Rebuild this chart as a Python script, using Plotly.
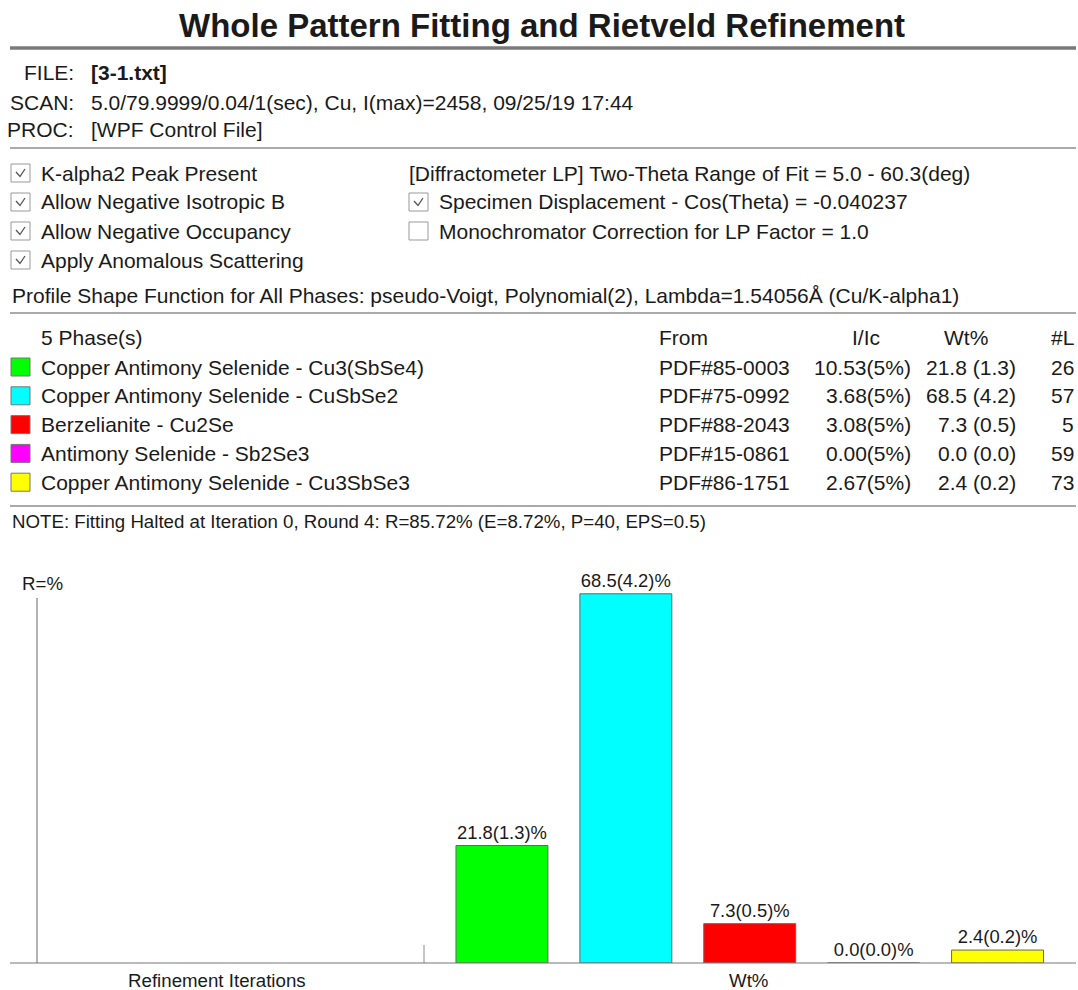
import plotly.graph_objects as go

# ---------------- data ----------------
phases = ["Copper Antimony Selenide - Cu3(SbSe4)",
          "Copper Antimony Selenide - CuSbSe2",
          "Berzelianite - Cu2Se",
          "Antimony Selenide - Sb2Se3",
          "Copper Antimony Selenide - Cu3SbSe3"]
pdf_refs = ["PDF#85-0003", "PDF#75-0992", "PDF#88-2043", "PDF#15-0861", "PDF#86-1751"]
i_ic = ["10.53(5%)", "3.68(5%)", "3.08(5%)", "0.00(5%)", "2.67(5%)"]
wt_pct = [21.8, 68.5, 7.3, 0.0, 2.4]
wt_err = [1.3, 4.2, 0.5, 0.0, 0.2]
n_lines = [26, 57, 5, 59, 73]
phase_colors = ["#00FF00", "#00FFFF", "#FF0000", "#FF00FF", "#FFFF00"]

checks_left = [("K-alpha2 Peak Present", True), ("Allow Negative Isotropic B", True),
               ("Allow Negative Occupancy", True), ("Apply Anomalous Scattering", True)]
checks_right = [("Specimen Displacement - Cos(Theta) = -0.040237", True),
                ("Monochromator Correction for LP Factor = 1.0", False)]

W, H = 1078, 990
FONT = "Liberation Sans, Arial, sans-serif"
BODY = 21
SMALL = 18.7


def X(px):
    return px / W


def Y(py):
    return 1 - py / H


annotations = []
shapes = []


def txt(x, y, s, size=BODY, anchor="left", bold=False, color="#1a1a1a"):
    if bold:
        s = "<b>" + s + "</b>"
    annotations.append(dict(x=X(x), y=Y(y), xref="paper", yref="paper", text=s,
                            showarrow=False, xanchor=anchor, yanchor="middle",
                            font=dict(family=FONT, size=size, color=color)))


def hline(y, x0, x1, color, width):
    shapes.append(dict(type="line", xref="paper", yref="paper", x0=X(x0), x1=X(x1),
                       y0=Y(y), y1=Y(y), line=dict(color=color, width=width)))


def vline(x, y0, y1, color, width):
    shapes.append(dict(type="line", xref="paper", yref="paper", x0=X(x), x1=X(x),
                       y0=Y(y0), y1=Y(y1), line=dict(color=color, width=width)))


def box(x0, y0, x1, y1, fill, line="#888", lw=1):
    shapes.append(dict(type="rect", xref="paper", yref="paper", x0=X(x0), x1=X(x1),
                       y0=Y(y1), y1=Y(y0), fillcolor=fill, line=dict(color=line, width=lw)))


def checkbox(x, yc, checked):
    box(x, yc - 9, x + 19, yc + 9, "white", "#999", 1)
    if checked:
        p = "M {:.5f} {:.5f} L {:.5f} {:.5f} L {:.5f} {:.5f}".format(
            X(x + 5), Y(yc - 1), X(x + 9), Y(yc + 3.5), X(x + 14), Y(yc - 4))
        shapes.append(dict(type="path", xref="paper", yref="paper", path=p,
                           line=dict(color="#555", width=1.3)))


# ---------------- header ----------------
txt(542, 25, "Whole Pattern Fitting and Rietveld Refinement", size=33, anchor="center", bold=True)
hline(48, 10, 1076, "#7a7a7a", 3.5)

txt(76, 72, "FILE:", anchor="right")
txt(89, 72, "[3-1.txt]", bold=True)
txt(76, 102, "SCAN:", anchor="right")
txt(89, 102, "5.0/79.9999/0.04/1(sec), Cu, I(max)=2458, 09/25/19 17:44")
txt(76, 130, "PROC:", anchor="right")
txt(89, 130, "[WPF Control File]")
hline(148, 10, 1076, "#aaaaaa", 2)

for i, (label, chk) in enumerate(checks_left):
    yc = 173 + i * 29
    checkbox(11, yc, chk)
    txt(39, yc, label)
txt(407, 173, "[Diffractometer LP] Two-Theta Range of Fit = 5.0 - 60.3(deg)")
for i, (label, chk) in enumerate(checks_right):
    yc = 202 + i * 29
    checkbox(409, yc, chk)
    txt(437, yc, label)

txt(10, 296, "Profile Shape Function for All Phases: pseudo-Voigt, Polynomial(2), Lambda=1.54056Å (Cu/K-alpha1)")
hline(313, 10, 1076, "#aaaaaa", 2)

# ---------------- phase table ----------------
txt(39, 337, "5 Phase(s)")
txt(657, 337, "From")
txt(866, 337, "I/Ic", anchor="center")
txt(966, 337, "Wt%", anchor="center")
txt(1076, 337, "#L", anchor="right")
for i in range(len(phases)):
    yc = 367 + i * 28.8
    box(11, yc - 9, 30, yc + 9, phase_colors[i], "#777", 1)
    txt(39, yc, phases[i])
    txt(657, yc, pdf_refs[i])
    txt(913, yc, i_ic[i], anchor="right")
    txt(1018, yc, "{:.1f} ({:.1f})".format(wt_pct[i], wt_err[i]), anchor="right")
    txt(1076, yc, str(n_lines[i]), anchor="right")
hline(506, 10, 1076, "#aaaaaa", 2)
txt(10, 521, "NOTE: Fitting Halted at Iteration 0, Round 4: R=85.72% (E=8.72%, P=40, EPS=0.5)", size=SMALL)

# ---------------- chart decorations ----------------
txt(20, 583, "R=%", size=SMALL)
vline(37, 598, 963, "#666", 1)
vline(424, 945, 963, "#888", 1)
hline(963, 10, 1076, "#777", 1.2)
txt(217, 980, "Refinement Iterations", size=SMALL, anchor="center")
txt(748, 980, "Wt%", size=SMALL, anchor="center")

# ---------------- bars ----------------
bar_text = ["{:.1f}({:.1f})%".format(v, e) for v, e in zip(wt_pct, wt_err)]
fig = go.Figure(go.Bar(
    x=phases, y=wt_pct, text=bar_text, textposition="outside",
    textfont=dict(family=FONT, size=18.4, color="#1a1a1a"),
    marker=dict(color=phase_colors, line=dict(color="#666", width=1)),
    cliponaxis=False, hoverinfo="x+y"))

fig.update_layout(
    width=W, height=H, margin=dict(l=0, r=0, t=0, b=0),
    paper_bgcolor="white", plot_bgcolor="rgba(0,0,0,0)",
    showlegend=False, bargap=0.258,
    xaxis=dict(domain=[X(440), X(1059.5)], showticklabels=False, showgrid=False,
               zeroline=False, showline=False, ticks=""),
    yaxis=dict(domain=[Y(963), Y(560)], range=[0, (963 - 560) / 5.39], showticklabels=False,
               showgrid=False, zeroline=False, showline=False, ticks=""),
    annotations=annotations, shapes=shapes,
    font=dict(family=FONT),
)

fig.write_html("out.html", config={"displayModeBar": False},
               post_script="document.body.style.margin='0';document.body.style.overflow='hidden';")
